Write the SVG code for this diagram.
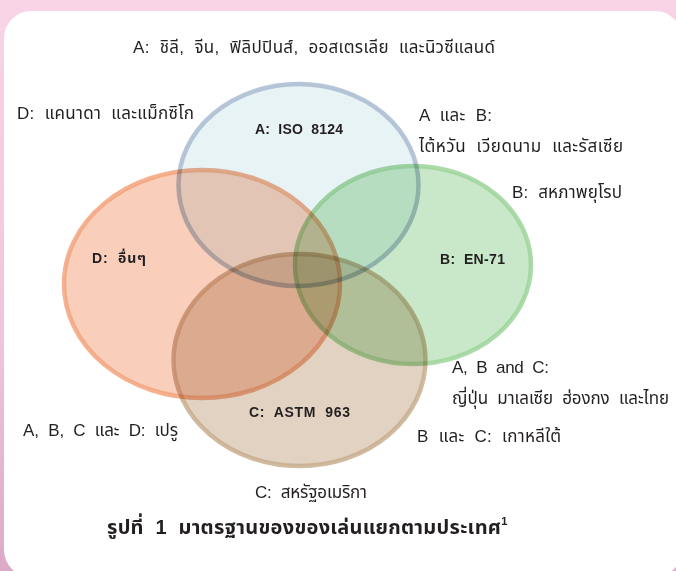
<svg xmlns="http://www.w3.org/2000/svg" width="676" height="571" viewBox="0 0 676 571">
<defs>
<linearGradient id="bg" x1="0" y1="0" x2="0" y2="1">
<stop offset="0" stop-color="#f9d4e6"/>
<stop offset="0.6" stop-color="#f0c4da"/>
<stop offset="1" stop-color="#dcaac6"/>
</linearGradient>
</defs>
<style>
.set{mix-blend-mode:multiply;stroke-width:4.5;stroke-opacity:0.85}
.t{font-family:"Liberation Sans","Noto Sans Thai","Noto Sans",sans-serif;font-size:17px;fill:#231f20}
.b{font-family:"Liberation Sans","Noto Sans Thai","Noto Sans",sans-serif;font-size:14px;font-weight:bold;fill:#231f20}
.title{font-family:"Liberation Sans","Noto Sans Thai","Noto Sans",sans-serif;font-size:20px;font-weight:bold;fill:#231f20}
</style>
<rect x="0" y="0" width="676" height="571" fill="url(#bg)"/>
<rect x="4" y="11" width="678" height="566" rx="27" fill="#ffffff"/>
<g id="venn" style="isolation:isolate">
<g id="setD"><ellipse class="set" cx="202" cy="284" rx="138" ry="114" fill="#f9cfbc" stroke="#f2a47e"/></g>
<g id="setA"><ellipse class="set" cx="298.5" cy="185" rx="120" ry="101" fill="#e8f3f5" stroke="#a9bbd0"/></g>
<g id="setC"><ellipse class="set" cx="299.5" cy="360" rx="126" ry="106" fill="#e1d2c2" stroke="#c9ae8e"/></g>
<g id="setB"><ellipse class="set" cx="413" cy="265" rx="118" ry="99" fill="#c9e8c9" stroke="#9dd59a"/></g>
</g>
<g id="labels">
<text class="b" x="255" y="134" xml:space="preserve" textLength="88">A:  ISO  8124</text>
<text class="b" x="92" y="263" xml:space="preserve" textLength="54">D:  อื่นๆ</text>
<text class="b" x="440" y="264" xml:space="preserve" textLength="65">B:  EN-71</text>
<text class="b" x="249" y="417" xml:space="preserve" textLength="101">C:  ASTM  963</text>
</g>
<g id="notes">
<text class="t" x="133" y="53" xml:space="preserve" textLength="362">A:  ชิลี,  จีน,  ฟิลิปปินส์,  ออสเตรเลีย  และนิวซีแลนด์</text>
<text class="t" x="17" y="119" xml:space="preserve" textLength="177">D:  แคนาดา  และแม็กซิโก</text>
<text class="t" x="419" y="121" xml:space="preserve" textLength="73">A  และ  B:</text>
<text class="t" x="419" y="152" xml:space="preserve" textLength="204">ไต้หวัน  เวียดนาม  และรัสเซีย</text>
<text class="t" x="512" y="198" xml:space="preserve" textLength="110">B:  สหภาพยุโรป</text>
<text class="t" x="452" y="373" xml:space="preserve" textLength="97">A,  B  and  C:</text>
<text class="t" x="452" y="404" xml:space="preserve" textLength="217">ญี่ปุ่น  มาเลเซีย  ฮ่องกง  และไทย</text>
<text class="t" x="23" y="436" xml:space="preserve" textLength="155">A,  B,  C  และ  D:  เปรู</text>
<text class="t" x="417" y="442" xml:space="preserve" textLength="144">B  และ  C:  เกาหลีใต้</text>
<text class="t" x="255" y="498" xml:space="preserve" textLength="112">C:  สหรัฐอเมริกา</text>
</g>
<g id="caption">
<text class="title" x="107" y="534" xml:space="preserve"><tspan textLength="394">รูปที่  1  มาตรฐานของของเล่นแยกตามประเทศ</tspan><tspan font-size="11" dy="-9">1</tspan></text>
</g>
</svg>
